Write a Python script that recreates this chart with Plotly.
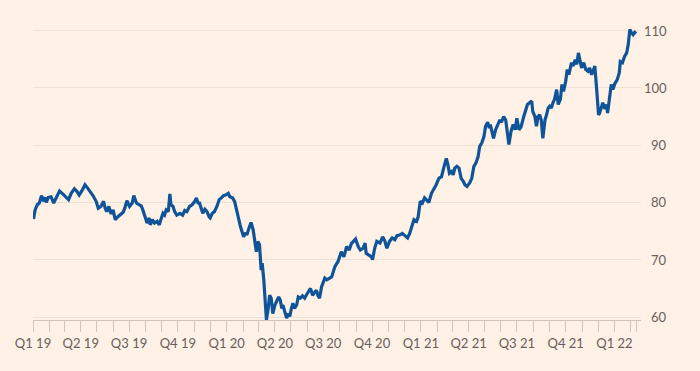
import plotly.graph_objects as go

dates = [
"2019-01-02","2019-01-05","2019-01-09","2019-01-13","2019-01-17","2019-01-21","2019-01-24","2019-01-26","2019-01-30",
"2019-02-04","2019-02-09","2019-02-15","2019-02-20","2019-02-26","2019-03-03","2019-03-09","2019-03-14","2019-03-20",
"2019-03-25","2019-03-29","2019-04-03","2019-04-09","2019-04-14","2019-04-19","2019-04-24","2019-04-30","2019-05-04",
"2019-05-09","2019-05-14","2019-05-17","2019-05-20","2019-05-24","2019-05-28","2019-06-01","2019-06-05","2019-06-10",
"2019-06-15","2019-06-20","2019-06-23","2019-06-27","2019-07-02","2019-07-07","2019-07-10","2019-07-15","2019-07-20",
"2019-07-24","2019-07-27","2019-07-31","2019-08-04","2019-08-08","2019-08-10","2019-08-14","2019-08-18","2019-08-23",
"2019-08-27","2019-08-31","2019-09-03","2019-09-06","2019-09-09","2019-09-13","2019-09-16","2019-09-18","2019-09-22",
"2019-09-25","2019-09-29","2019-10-05","2019-10-10","2019-10-14","2019-10-18","2019-10-23","2019-10-28","2019-11-02",
"2019-11-05","2019-11-08","2019-11-11","2019-11-14","2019-11-17","2019-11-21","2019-11-25","2019-11-29","2019-12-01",
"2019-12-05","2019-12-09","2019-12-14","2019-12-18","2019-12-22","2019-12-26","2019-12-30","2020-01-04","2020-01-07",
"2020-01-12","2020-01-16","2020-01-21","2020-01-24","2020-01-27","2020-01-31","2020-02-02","2020-02-06","2020-02-08",
"2020-02-12","2020-02-16","2020-02-20","2020-02-23","2020-02-26","2020-02-29","2020-03-03","2020-03-06","2020-03-08",
"2020-03-11","2020-03-13","2020-03-16","2020-03-19","2020-03-22","2020-03-25","2020-03-28","2020-04-01","2020-04-04",
"2020-04-08","2020-04-11","2020-04-14","2020-04-16","2020-04-20","2020-04-23","2020-04-26","2020-04-29","2020-05-02",
"2020-05-05","2020-05-08","2020-05-12","2020-05-15","2020-05-19","2020-05-23","2020-05-27","2020-06-01","2020-06-04",
"2020-06-07","2020-06-11","2020-06-15","2020-06-18","2020-06-21","2020-06-24","2020-06-28","2020-07-01","2020-07-04",
"2020-07-08","2020-07-12","2020-07-17","2020-07-23","2020-07-29","2020-08-04","2020-08-09","2020-08-14","2020-08-19",
"2020-08-23","2020-08-28","2020-08-31","2020-09-05","2020-09-09","2020-09-14","2020-09-18","2020-09-20","2020-09-25",
"2020-09-30","2020-10-02","2020-10-06","2020-10-10","2020-10-16","2020-10-21","2020-10-25","2020-10-29","2020-11-03",
"2020-11-08","2020-11-13","2020-11-17","2020-11-22","2020-11-27","2020-12-02","2020-12-07","2020-12-11","2020-12-15",
"2020-12-19","2020-12-24","2020-12-27","2020-12-31","2021-01-04","2021-01-08","2021-01-13","2021-01-16","2021-01-21",
"2021-01-25","2021-01-30","2021-02-04","2021-02-09","2021-02-13","2021-02-18","2021-02-21","2021-02-24","2021-02-28",
"2021-03-03","2021-03-06","2021-03-10","2021-03-14","2021-03-18","2021-03-22","2021-03-25","2021-03-29","2021-04-03",
"2021-04-07","2021-04-11","2021-04-15","2021-04-19","2021-04-22","2021-04-26","2021-04-30","2021-05-03","2021-05-07",
"2021-05-10","2021-05-12","2021-05-16","2021-05-18","2021-05-22","2021-05-26","2021-05-30","2021-06-02","2021-06-06",
"2021-06-10","2021-06-14","2021-06-16","2021-06-20","2021-06-24","2021-06-28","2021-07-01","2021-07-05","2021-07-09",
"2021-07-14","2021-07-18","2021-07-21","2021-07-25","2021-07-29","2021-07-31","2021-08-04","2021-08-07","2021-08-10",
"2021-08-13","2021-08-16","2021-08-19","2021-08-23","2021-08-26","2021-08-29","2021-09-01","2021-09-04","2021-09-07",
"2021-09-10","2021-09-14","2021-09-17","2021-09-21","2021-09-24","2021-09-27","2021-10-01","2021-10-04","2021-10-07",
"2021-10-12","2021-10-15","2021-10-19","2021-10-22","2021-10-25","2021-10-28","2021-10-31","2021-11-04","2021-11-08",
"2021-11-12","2021-11-15","2021-11-19","2021-11-22","2021-11-25","2021-11-28","2021-11-30","2021-12-02","2021-12-04",
"2021-12-08","2021-12-10","2021-12-14","2021-12-17","2021-12-19","2021-12-23","2021-12-26","2021-12-29","2022-01-02",
"2022-01-06","2022-01-10","2022-01-12","2022-01-16","2022-01-20","2022-01-24","2022-01-27","2022-01-30","2022-02-02",
"2022-02-05","2022-02-08","2022-02-11",
]

values = [
77.1,78.7,79.6,79.9,81.2,80.2,80.9,80.0,80.9,
81.0,79.9,81.0,82.0,81.5,81.0,80.5,81.6,82.4,
81.9,81.3,82.0,83.1,82.5,81.9,81.2,80.2,79.0,
79.3,80.2,79.0,78.4,79.3,78.0,78.7,77.0,77.5,
78.0,78.3,79.0,80.3,79.3,79.9,81.2,79.9,79.6,
79.4,78.7,77.3,76.4,77.3,76.1,77.0,76.4,76.7,
76.1,77.3,78.1,77.8,78.7,78.4,81.5,79.6,79.3,
78.4,77.8,78.1,77.8,78.6,78.4,79.3,79.6,80.2,
80.8,79.9,79.9,79.0,78.1,78.8,78.4,77.5,77.3,
78.1,78.4,79.4,80.5,80.8,81.2,81.3,81.6,81.0,
80.8,80.2,78.5,77.0,75.8,74.6,74.0,74.7,74.3,
75.5,76.5,75.2,73.5,71.4,73.2,72.6,68.2,69.4,
66.5,63.5,59.5,61.2,63.8,63.3,60.6,62.1,62.7,
63.5,63.0,61.5,62.1,60.6,59.8,60.6,60.1,61.5,
62.4,61.5,62.1,63.5,63.3,63.7,63.3,64.1,64.7,
65.0,63.8,64.4,64.7,63.8,63.3,65.3,65.9,66.8,
66.5,66.8,67.0,68.8,69.7,71.4,70.5,72.3,71.7,
72.8,73.2,73.6,72.3,71.7,72.0,72.9,71.1,70.8,
70.5,70.0,72.0,73.2,72.9,74.0,73.3,72.0,73.2,
73.8,73.5,74.2,74.3,74.6,74.2,73.8,74.6,75.8,
77.0,76.7,77.5,80.2,79.9,80.8,80.2,80.0,81.6,
82.2,83.1,84.2,84.5,86.0,87.7,86.6,85.1,85.4,
84.8,86.0,86.3,86.0,84.2,83.7,83.1,82.8,83.4,
84.2,86.3,86.9,88.0,89.8,90.4,91.5,93.3,94.0,
93.0,93.6,92.1,91.2,92.7,93.6,94.4,94.0,95.0,
94.4,92.1,90.1,92.4,93.6,92.7,94.7,92.7,93.2,
95.0,96.2,97.1,97.4,97.7,95.9,95.0,93.3,95.0,
95.3,94.4,91.2,94.4,95.3,96.5,96.8,96.5,97.4,
98.0,99.7,97.1,98.0,100.6,99.4,101.1,103.2,102.3,
104.4,103.8,104.9,104.1,106.1,104.6,103.5,104.4,103.2,
102.9,103.5,102.3,103.2,103.8,100.3,96.8,95.3,95.6,
96.8,97.4,96.3,97.1,95.6,99.1,100.6,99.7,100.8,
101.4,102.6,104.6,104.4,105.5,106.1,107.6,110.2,109.6,
109.3,109.7,109.5,
]

# x-axis ticks: month starts, labelled at quarter starts
tick_dates = [
"2019-01-01","2019-02-01","2019-03-01","2019-04-01","2019-05-01","2019-06-01",
"2019-07-01","2019-08-01","2019-09-01","2019-10-01","2019-11-01","2019-12-01",
"2020-01-01","2020-02-01","2020-03-01","2020-04-01","2020-05-01","2020-06-01",
"2020-07-01","2020-08-01","2020-09-01","2020-10-01","2020-11-01","2020-12-01",
"2021-01-01","2021-02-01","2021-03-01","2021-04-01","2021-05-01","2021-06-01",
"2021-07-01","2021-08-01","2021-09-01","2021-10-01","2021-11-01","2021-12-01",
"2022-01-01","2022-02-01","2022-02-11",
]
tick_labels = [
"Q1 19","","","Q2 19","","","Q3 19","","","Q4 19","","",
"Q1 20","","","Q2 20","","","Q3 20","","","Q4 20","","",
"Q1 21","","","Q2 21","","","Q3 21","","","Q4 21","","",
"Q1 22","","",
]
y_ticks = [60, 70, 80, 90, 100, 110]

BG = "#FFF1E5"
TEXT = "#66605C"
FONT = "Lato"

fig = go.Figure()
fig.add_trace(go.Scatter(
    x=dates, y=values, mode="lines",
    line=dict(color="#0F5499", width=3.2, shape="linear"),
    hoverinfo="skip", showlegend=False,
))

for v in y_ticks:
    fig.add_annotation(
        x=1, xref="paper", y=v, yref="y", text=str(v),
        xanchor="right", yanchor="middle", xshift=28, showarrow=False,
        font=dict(family=FONT, size=13, color=TEXT),
    )

fig.update_layout(
    width=700, height=371,
    paper_bgcolor=BG, plot_bgcolor=BG,
    margin=dict(l=33, r=59, t=22, b=51),
    font=dict(family=FONT, size=13, color=TEXT),
    xaxis=dict(
        type="date",
        range=["2019-01-01", "2022-02-20"],
        tickmode="array", tickvals=tick_dates, ticktext=tick_labels,
        ticks="outside", ticklen=11, tickwidth=1, tickcolor="#CEC6BD",
        showline=True, linecolor="#CEC6BD", linewidth=1,
        showgrid=False, zeroline=False,
        tickfont=dict(family=FONT, size=13, color=TEXT),
        ticklabelstandoff=0,
    ),
    yaxis=dict(
        range=[59.48, 111.5],
        tickmode="array", tickvals=y_ticks,
        showticklabels=False, ticks="",
        showgrid=True, gridcolor="#EBE1D7", gridwidth=1,
        zeroline=False, showline=False,
    ),
)

fig.write_html(
    "out.html",
    config={"displayModeBar": False},
    post_script="document.body.style.margin='0';document.body.style.background='#FFF1E5';document.body.style.overflow='hidden';",
)
